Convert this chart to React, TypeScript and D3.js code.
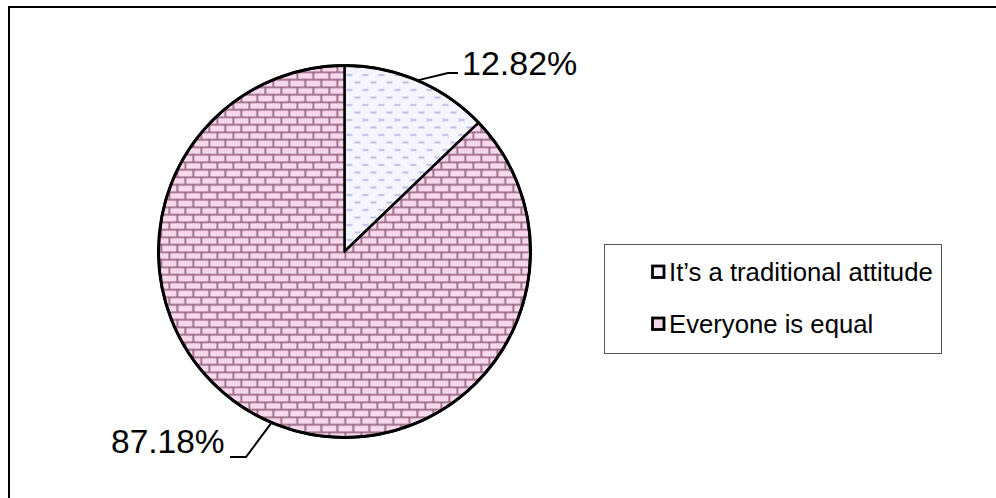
import React from "react";
import * as d3 from "d3";

const categories = ["It\u2019s a traditional attitude", "Everyone is equal"];
const values = [12.82, 87.18];
const labels = ["12.82%", "87.18%"];

const W = 996;
const H = 498;
const cx = 344.5;
const cy = 251.5;
const R = 186;

export default function App() {
  const pie = d3.pie<number>().sort(null).value((d) => d)(values);
  const arc = d3.arc<d3.PieArcDatum<number>>().innerRadius(0).outerRadius(R);
  const fills = ["url(#dashPat)", "url(#brickPat)"];
  const legendFills = ["#f4f4fc", "#f4d4e6"];
  const font = "'Liberation Sans', Arial, Helvetica, sans-serif";

  const pt = (a: number, r: number) => [cx + r * Math.sin(a), cy - r * Math.cos(a)];
  const m0 = (pie[0].startAngle + pie[0].endAngle) / 2;
  const m1 = (pie[1].startAngle + pie[1].endAngle) / 2;
  const p0 = pt(m0, R);
  const p1 = pt(m1, R);

  return (
    <svg width={W} height={H} style={{ position: "absolute", left: 0, top: 0, background: "#fff" }}>
      <defs>
        <pattern id="dashPat" patternUnits="userSpaceOnUse" width={16} height={15}>
          <rect width={16} height={15} fill="#f5f5fd" />
          <line x1={2} y1={3.5} x2={8} y2={3.5} stroke="#a6a8dc" strokeWidth={1.4} />
          <line x1={10} y1={11} x2={16} y2={11} stroke="#a6a8dc" strokeWidth={1.4} />
        </pattern>
        <pattern id="brickPat" patternUnits="userSpaceOnUse" width={16} height={15}>
          <rect width={16} height={15} fill="#f8d8ec" />
          <line x1={0} y1={0.75} x2={16} y2={0.75} stroke="#93627d" strokeWidth={1.7} />
          <line x1={0} y1={8.25} x2={16} y2={8.25} stroke="#93627d" strokeWidth={1.7} />
          <line x1={0.8} y1={0} x2={0.8} y2={7.5} stroke="#93627d" strokeWidth={1.7} />
          <line x1={8.8} y1={7.5} x2={8.8} y2={15} stroke="#93627d" strokeWidth={1.7} />
        </pattern>
      </defs>

      <rect x={9} y={7} width={1100} height={700} fill="none" stroke="#000" strokeWidth={2} />

      <g transform={`translate(${cx},${cy})`}>
        {pie.map((d, i) => (
          <path key={i} d={arc(d) || ""} fill={fills[i]} stroke="#000" strokeWidth={2.5} strokeLinejoin="round" />
        ))}
      </g>
      <circle cx={cx} cy={cy} r={R} fill="none" stroke="#000" strokeWidth={3} />

      <polyline
        points={`${p0[0]},${p0[1]} 448,73 458,73`}
        fill="none"
        stroke="#000"
        strokeWidth={2}
      />
      <text x={462} y={75} fontFamily={font} fontSize={34} fill="#000">
        {labels[0]}
      </text>

      <polyline
        points={`${p1[0]},${p1[1]} 246,457 230,457`}
        fill="none"
        stroke="#000"
        strokeWidth={2}
      />
      <text x={111} y={453} fontFamily={font} fontSize={33.5} fill="#000">
        {labels[1]}
      </text>

      <rect x={604.5} y={244.5} width={337} height={109} fill="#fff" stroke="#555" strokeWidth={1} />
      {categories.map((c, i) => {
        const y = i === 0 ? 280.5 : 332.5;
        return (
          <g key={c}>
            <rect x={652.5} y={y - 14.5} width={11.5} height={11.5} fill={legendFills[i]} stroke="#000" strokeWidth={2.8} />
            <text x={669} y={y} fontFamily={font} fontSize={25.7} fill="#000">
              {c}
            </text>
          </g>
        );
      })}
    </svg>
  );
}
